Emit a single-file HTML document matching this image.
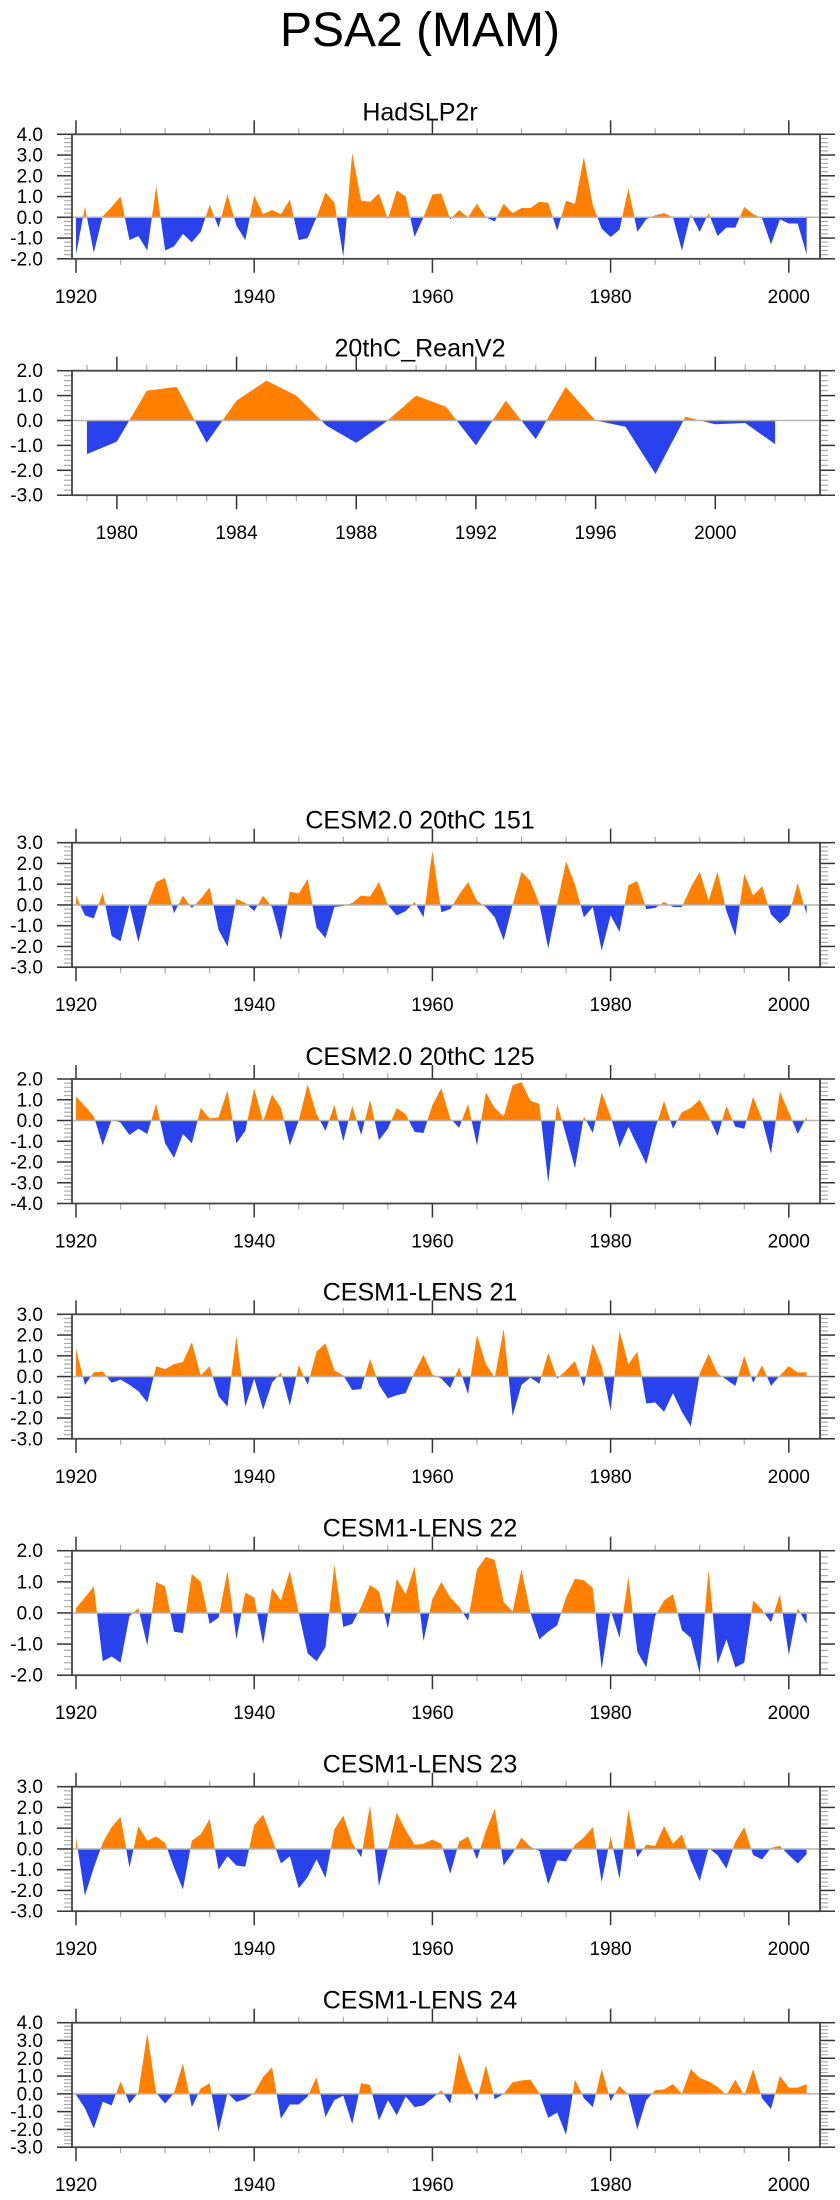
<!DOCTYPE html>
<html><head><meta charset="utf-8">
<style>
html,body{margin:0;padding:0;background:#fff;}
svg{display:block;font-family:"Liberation Sans",Arial,sans-serif;}
</style></head>
<body>
<svg id="fig" width="840" height="2200" viewBox="0 0 840 2200" xmlns="http://www.w3.org/2000/svg">
<text x="420" y="46" font-size="48" text-anchor="middle" fill="#000">PSA2 (MAM)</text>
</svg>
<script>
const yearsLong = Array.from({length:83},(_,i)=>1920+i);
const yearsShort = Array.from({length:24},(_,i)=>1979+i);
const hadslp = [-1.8,0.5,-1.7,0.05,0.5,1.0,-1.1,-0.9,-1.6,1.5,-1.6,-1.4,-0.8,-1.2,-0.7,0.6,-0.5,1.1,-0.4,-1.1,1.05,0.15,0.35,0.15,0.85,-1.1,-1.0,0.0,1.2,0.7,-1.9,3.1,0.8,0.75,1.15,-0.1,1.3,1.0,-0.95,0.0,1.1,1.15,-0.1,0.35,0.0,0.65,0.0,-0.2,0.65,0.2,0.45,0.45,0.75,0.7,-0.65,0.8,0.65,2.9,0.6,-0.55,-0.95,-0.6,1.4,-0.7,-0.1,0.1,0.2,0.0,-1.6,0.15,-0.7,0.2,-0.9,-0.5,-0.5,0.5,0.15,-0.05,-1.3,-0.1,-0.3,-0.3,-1.8];
const rean = [-1.35,-0.85,1.2,1.35,-0.9,0.8,1.6,1.0,-0.2,-0.9,-0.05,1.0,0.55,-1.0,0.8,-0.75,1.35,0.0,-0.25,-2.15,0.15,-0.15,-0.1,-0.95];
const cesm151 = [0.45,-0.5,-0.65,0.6,-1.5,-1.75,0.0,-1.8,0.0,1.1,1.3,-0.4,0.45,-0.15,0.3,0.85,-1.2,-2.0,0.3,0.1,-0.3,0.45,-0.1,-1.7,0.65,0.55,1.25,-1.1,-1.6,-0.1,-0.05,0.1,0.45,0.4,1.1,0.0,-0.5,-0.3,0.15,-0.6,2.6,-0.35,-0.2,0.5,1.1,0.2,-0.1,-0.6,-1.7,0.0,1.6,1.15,0.05,-2.1,0.05,2.1,1.0,-0.6,-0.1,-2.2,-0.5,-1.3,0.95,1.15,-0.2,-0.15,0.15,-0.1,-0.1,0.85,1.6,0.2,1.6,-0.3,-1.5,1.5,0.45,0.9,-0.45,-0.9,-0.5,1.05,-0.45];
const cesm125 = [1.15,0.7,0.2,-1.2,0.05,-0.1,-0.7,-0.4,-0.65,0.8,-1.1,-1.8,-0.65,-1.1,0.6,0.1,0.15,1.45,-1.1,-0.5,1.55,-0.05,1.25,0.6,-1.2,0.0,1.75,0.3,-0.5,0.75,-1.0,0.7,-0.7,1.0,-0.95,-0.4,0.6,0.3,-0.55,-0.6,0.75,1.55,0.1,-0.35,0.8,-1.2,1.35,0.6,0.2,1.7,1.85,0.95,0.8,-3.0,0.8,-0.7,-2.3,0.2,-0.6,1.35,0.2,-1.3,-0.3,-1.2,-2.1,-0.4,0.95,-0.4,0.4,0.6,1.0,0.2,-0.75,0.7,-0.3,-0.4,1.15,0.05,-1.6,1.4,0.4,-0.65,0.2];
const lens21 = [1.35,-0.4,0.2,0.25,-0.3,-0.15,-0.4,-0.7,-1.25,0.5,0.35,0.6,0.7,1.65,0.05,0.5,-0.95,-1.45,1.95,-1.45,-0.1,-1.6,-0.3,0.2,-1.4,0.55,-0.4,1.2,1.6,0.3,0.05,-0.65,-0.6,0.85,-0.4,-1.05,-0.9,-0.8,0.2,1.05,0.1,-0.1,-0.55,0.45,-0.85,2.0,0.6,-0.05,2.3,-1.9,-0.4,-0.05,-0.35,1.15,-0.1,0.3,0.75,-0.5,1.6,0.5,-1.65,2.2,0.6,1.2,-1.3,-1.25,-1.7,-0.8,-1.7,-2.4,0.15,1.1,0.15,-0.15,-0.45,1.0,-0.3,0.55,-0.45,0.05,0.5,0.2,0.2];
const lens22 = [0.15,0.5,0.85,-1.55,-1.4,-1.6,-0.1,0.15,-1.05,1.0,0.85,-0.6,-0.65,1.25,1.0,-0.35,-0.15,1.35,-0.85,0.65,0.5,-1.0,0.8,0.4,1.35,0.0,-1.3,-1.55,-1.1,1.55,-0.45,-0.35,0.2,0.9,0.7,-0.5,1.1,0.6,1.5,-0.9,0.45,1.0,0.5,0.2,-0.25,1.4,1.8,1.7,0.35,0.05,1.4,0.0,-0.85,-0.6,-0.4,0.5,1.1,1.05,0.8,-1.8,0.1,-0.8,1.15,-1.25,-1.75,-0.1,0.4,0.6,-0.55,-0.8,-1.95,1.4,-1.65,-0.85,-1.75,-1.6,0.4,0.1,-0.3,0.6,-1.35,0.15,-0.35];
const lens23 = [0.55,-2.25,-0.9,0.3,1.05,1.55,-0.9,1.1,0.4,0.6,0.3,-0.9,-1.95,0.4,0.7,1.45,-1.0,-0.35,-0.8,-0.85,1.15,1.65,0.5,-0.7,-0.35,-1.9,-1.35,-0.5,-1.4,0.95,1.6,0.3,-0.4,2.1,-1.8,0.0,1.75,0.9,0.2,0.25,0.45,0.25,-1.2,0.35,0.6,-0.5,0.85,1.95,-0.8,-0.2,0.55,0.1,-0.1,-1.7,-0.55,-0.6,0.2,0.55,1.05,-1.6,0.6,-1.45,1.9,-0.4,0.2,0.15,1.1,0.25,0.7,-0.55,-1.55,0.05,-0.3,-0.95,0.35,1.05,-0.3,-0.5,0.05,0.15,-0.3,-0.7,-0.25];
const lens24 = [-0.05,-0.8,-1.95,-0.45,-0.65,0.7,-0.55,0.1,3.4,0.05,-0.55,0.05,1.7,-0.75,0.3,0.6,-2.1,0.05,-0.45,-0.3,0.05,0.95,1.5,-1.4,-0.6,-0.6,-0.15,0.95,-1.3,-0.35,-0.1,-1.7,0.6,0.5,-1.5,-0.35,-1.2,-0.15,-0.75,-0.65,-0.25,0.2,-0.55,2.3,0.8,-0.4,1.6,-0.3,0.0,0.65,0.75,0.8,0.05,-1.35,-1.05,-2.3,0.8,-0.25,-0.75,1.4,-0.4,0.45,-0.05,-2.0,-0.35,0.2,0.25,0.55,0.0,1.4,0.9,0.7,0.4,-0.05,0.8,-0.1,1.4,-0.25,-0.85,1.0,0.35,0.35,0.55];
const panelTitles = ["HadSLP2r","20thC_ReanV2","CESM2.0 20thC 151","CESM2.0 20thC 125","CESM1-LENS 21","CESM1-LENS 22","CESM1-LENS 23","CESM1-LENS 24"];
const yMins = [-2,-3,-3,-4,-3,-2,-3,-3];
const yMaxs = [4,2,3,2,3,2,3,4];

const NS="http://www.w3.org/2000/svg";
const svg=document.getElementById('fig');
function mk(tag,attrs,parent){const e=document.createElementNS(NS,tag);for(const k in attrs)e.setAttribute(k,attrs[k]);(parent||svg).appendChild(e);return e;}

const BL=72,BR=820,BH=124.5;
const tops=[134.3,370.7,842.7,1079,1314.3,1550.7,1786.7,2022.7];
const panels=[
 {years:yearsLong,vals:hadslp,x0:1919.55,x1:2003.5,major:20,minor:5},
 {years:yearsShort,vals:rean,x0:1978.5,x1:2003.5,major:4,minor:1},
 {years:yearsLong,vals:cesm151,x0:1919.55,x1:2003.5,major:20,minor:5},
 {years:yearsLong,vals:cesm125,x0:1919.55,x1:2003.5,major:20,minor:5},
 {years:yearsLong,vals:lens21,x0:1919.55,x1:2003.5,major:20,minor:5},
 {years:yearsLong,vals:lens22,x0:1919.55,x1:2003.5,major:20,minor:5},
 {years:yearsLong,vals:lens23,x0:1919.55,x1:2003.5,major:20,minor:5},
 {years:yearsLong,vals:lens24,x0:1919.55,x1:2003.5,major:20,minor:5}
];

panels.forEach((p,pi)=>{
  const top=tops[pi],bot=top+BH,ymin=yMins[pi],ymax=yMaxs[pi];
  const g=mk('g',{});
  
  
  const X=v=>BL+(v-p.x0)/(p.x1-p.x0)*(BR-BL);
  const Y=v=>bot-(v-ymin)/(ymax-ymin)*BH;
  const t=mk('text',{x:420,y:top-14,'font-size':25,'text-anchor':'middle',fill:'#000'},g);
  t.textContent=panelTitles[pi];
  
  
  // build points incl. zero crossings
  const pts=[];
  for(let i=0;i<p.vals.length;i++){
    const a=p.vals[i];
    pts.push([p.years[i],a]);
    if(i<p.vals.length-1){const b=p.vals[i+1];
      if((a>0&&b<0)||(a<0&&b>0)){const f=a/(a-b);pts.push([p.years[i]+f,0]);}}
  }
  const y0=Y(0);
  let pos='M'+X(pts[0][0])+','+y0, neg=pos;
  pts.forEach(q=>{pos+=' L'+X(q[0]).toFixed(2)+','+Y(Math.max(0,q[1])).toFixed(2);neg+=' L'+X(q[0]).toFixed(2)+','+Y(Math.min(0,q[1])).toFixed(2);});
  const last=X(pts[pts.length-1][0]);
  pos+=' L'+last+','+y0+' Z';neg+=' L'+last+','+y0+' Z';
  const ap=mk('path',{d:pos,fill:'#ff8000'},g);
  
  
  const an=mk('path',{d:neg,fill:'#2a42ec'},g);
  
  
  const zl=mk('line',{x1:BL,x2:BR,y1:y0,y2:y0,stroke:'#b4b4b4','stroke-width':1.5},g);
  
  
  // y ticks
  for(let v=ymin;v<=ymax+1e-6;v+=0.2){
    const yy=Y(v);const isMaj=Math.abs(v-Math.round(v))<1e-6;
    const len=isMaj?15:8,col=isMaj?'#333':'#aaa';
    mk('line',{x1:BL-len,x2:BL,y1:yy,y2:yy,stroke:col,'stroke-width':isMaj?1.5:1.2},g);
    mk('line',{x1:BR,x2:BR+len,y1:yy,y2:yy,stroke:col,'stroke-width':isMaj?1.5:1.2},g);
    if(isMaj){const lb=mk('text',{x:43,y:yy+6.5,'font-size':19,'text-anchor':'end',fill:'#000'},g);
      lb.textContent=Math.round(v).toFixed(1);
      
      }
  }
  // x ticks
  const start=Math.ceil(p.x0/p.minor)*p.minor;
  for(let yr=start;yr<=p.x1;yr+=p.minor){
    const xx=X(yr);const isMaj=(yr%p.major===0);
    const len=isMaj?14:6,col=isMaj?'#333':'#aaa';
    mk('line',{x1:xx,x2:xx,y1:top-len,y2:top,stroke:col,'stroke-width':isMaj?1.5:1.2},g);
    mk('line',{x1:xx,x2:xx,y1:bot,y2:bot+len,stroke:col,'stroke-width':isMaj?1.5:1.2},g);
    if(isMaj){const lb=mk('text',{x:xx,y:bot+44,'font-size':19,'text-anchor':'middle',fill:'#000'},g);
      lb.textContent=yr;
      
      }
  }
  const box=mk('rect',{x:BL,y:top,width:BR-BL,height:BH,fill:'none',stroke:'#444','stroke-width':1.8},g);
  
  
});
</script>
</body></html>
